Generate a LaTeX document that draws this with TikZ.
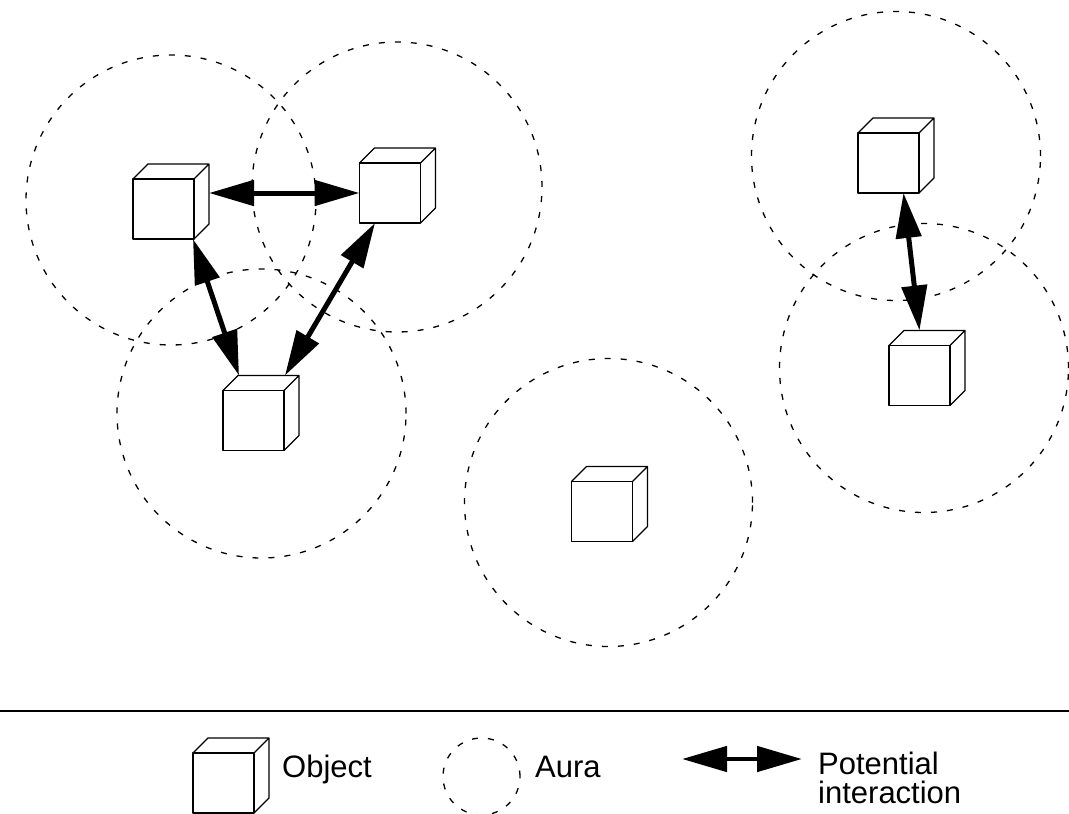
\documentclass[tikz,border=0pt]{standalone}
\usepackage{fontspec}
\setmainfont{Liberation Sans}
\usetikzlibrary{arrows.meta}
\tikzset{
  cubebox/.style={draw, line width=1.3pt, line join=round, fill=white, minimum width=61pt, minimum height=60pt, inner sep=0pt, outer sep=0pt},
  cubeline/.style={line width=1.3pt, line join=round},
  aura/.style={draw, circle, line width=1.3pt, dash pattern=on 6pt off 10pt, inner sep=0pt, outer sep=0pt},
  interact/.style={line width=5pt, {Triangle[length=45pt,width=25pt]}-{Triangle[length=45pt,width=25pt]}},
  legtext/.style={font=\fontsize{31}{28.5}\selectfont, inner sep=0pt, anchor=base west, align=left},
}
\newcommand\cubenode[2]{%
  \node[cubebox] (#1) at #2 {};
  \draw[cubeline] (#1.north west) -- ([shift={(15pt,15pt)}]#1.north west)
     -- ([shift={(15pt,15pt)}]#1.north east) -- ([shift={(15pt,15pt)}]#1.south east)
     -- (#1.south east) (#1.north east) -- ([shift={(15pt,15pt)}]#1.north east);
}
\begin{document}
\begin{tikzpicture}[x=1pt,y=-1pt]
\useasboundingbox (0,0) rectangle (1069,814);
% auras
\node[aura, minimum size=290pt] (auraA) at (171,200) {};
\node[aura, minimum size=290pt] (auraB) at (397,187) {};
\node[aura, minimum size=289pt] (auraC) at (261.5,413.5) {};
\node[aura, minimum size=288pt] (auraD) at (608.5,502.5) {};
\node[aura, minimum size=289pt] (auraE) at (896,156) {};
\node[aura, minimum size=289pt] (auraF) at (924,368) {};
% objects
\cubenode{c1}{(163.5,209)}
\cubenode{c2}{(390,193)}
\cubenode{c3}{(253.5,420.5)}
\cubenode{c4}{(888.5,163)}
\cubenode{c5}{(919.5,375.5)}
\cubenode{c6}{(602,511.5)}
% interactions
\draw[interact] ([xshift=15pt]c1.east |- c2.west) -- (c2.west);
\draw[interact] ([xshift=-1pt]c1.south east) -- ([shift={(16pt,15pt)}]c3.north west);
\draw[interact] ([shift={(1pt,15pt)}]c3.north east) -- ([xshift=-15pt]c2.south);
\draw[interact] ([xshift=15pt]c4.south) -- ([yshift=15pt]c5.north);
% legend separator
\coordinate (sepL) at (0,711);
\coordinate (sepR) at (1069,711);
\draw[line width=1.5pt] (sepL) -- (sepR);
% legend
\cubenode{lc}{(223.5,783)}
\node[legtext] (lObj) at (282,777) {Object};
\node[aura, minimum size=77pt] (la) at (481.5,776.5) {};
\node[legtext] (lAura) at (535,777) {Aura};
\coordinate (lia) at (682,759);
\coordinate (lib) at (802,759);
\draw[interact, line width=4.7pt] (lia) -- (lib);
\node[legtext] (lPot) at (818,803) {Potential\\interaction};
\end{tikzpicture}
\end{document}
